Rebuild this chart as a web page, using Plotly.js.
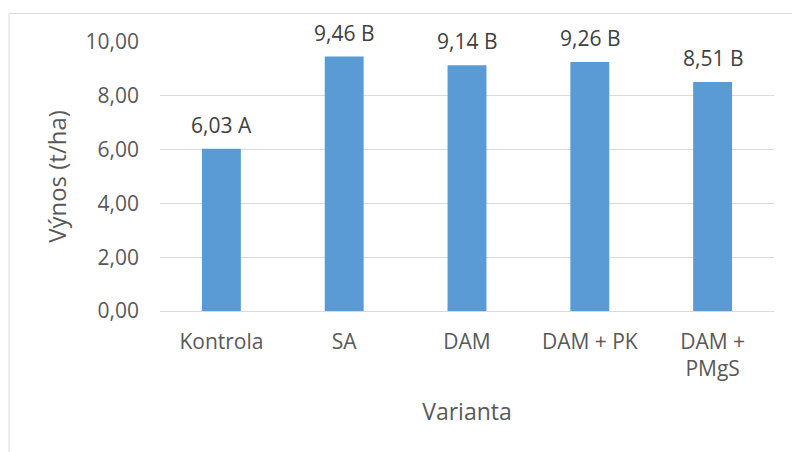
<!DOCTYPE html>
<html>
<head>
<meta charset="utf-8">
<script src="https://cdn.plot.ly/plotly-3.0.1.min.js"></script>
<style>html,body{margin:0;padding:0;background:#fff;}#chart{width:792px;height:452px;}</style>
</head>
<body>
<div id="chart"></div>
<script>
const categories = ["Kontrola", "SA", "DAM", "DAM + PK", "DAM +<br>PMgS"];
const yields = [6.03, 9.46, 9.14, 9.26, 8.51];
const groups = ["A", "B", "B", "B", "B"];
const yTickVals = [0, 2, 4, 6, 8, 10];

const FONT = "'Open Sans', 'Noto Sans', sans-serif";
const labels = yields.map((v, i) => v.toFixed(2).replace('.', ',') + ' ' + groups[i]);

const trace = {
  type: 'bar',
  x: categories,
  y: yields,
  marker: {color: '#5B9BD5'},
  hoverinfo: 'none'
};

const annotations = categories.map((c, i) => ({
  x: c, y: yields[i], xref: 'x', yref: 'y',
  text: labels[i], showarrow: false, yanchor: 'bottom', yshift: 8,
  font: {family: FONT, size: 21, color: '#404040'}
}));

const layout = {
  width: 792, height: 452,
  margin: {l: 160, r: 18, t: 42, b: 141, pad: 0},
  paper_bgcolor: '#ffffff', plot_bgcolor: '#ffffff',
  separators: ', ',
  bargap: 0.683,
  showlegend: false,
  font: {family: FONT, color: '#595959'},
  xaxis: {
    type: 'category',
    showgrid: false, zeroline: false,
    showline: false, ticks: '',
    tickfont: {family: FONT, size: 21, color: '#595959'},
    ticklabelstandoff: 16,
    title: {text: 'Varianta', font: {family: FONT, size: 23, color: '#595959'}, standoff: 22}
  },
  yaxis: {
    range: [0, 10],
    tickvals: yTickVals,
    tickformat: '.2f',
    showgrid: true, gridcolor: '#d9d9d9', gridwidth: 1,
    zeroline: true, zerolinecolor: '#d9d9d9', zerolinewidth: 1,
    showline: false, ticks: '',
    tickfont: {family: FONT, size: 21, color: '#595959'},
    ticklabelstandoff: 20,
    title: {text: 'Výnos (t/ha)', font: {family: FONT, size: 24, color: '#595959'}, standoff: 12}
  },
  annotations: annotations,
  shapes: [{
    type: 'rect', xref: 'paper', yref: 'paper',
    x0: (9 - 160) / 614, x1: (800 - 160) / 614,
    y0: (311 - 460) / 269, y1: (311 - 13.5) / 269,
    line: {color: '#d9d9d9', width: 1}, layer: 'below'
  }]
};

Plotly.newPlot('chart', [trace], layout, {displayModeBar: false, staticPlot: true});
</script>
</body>
</html>
